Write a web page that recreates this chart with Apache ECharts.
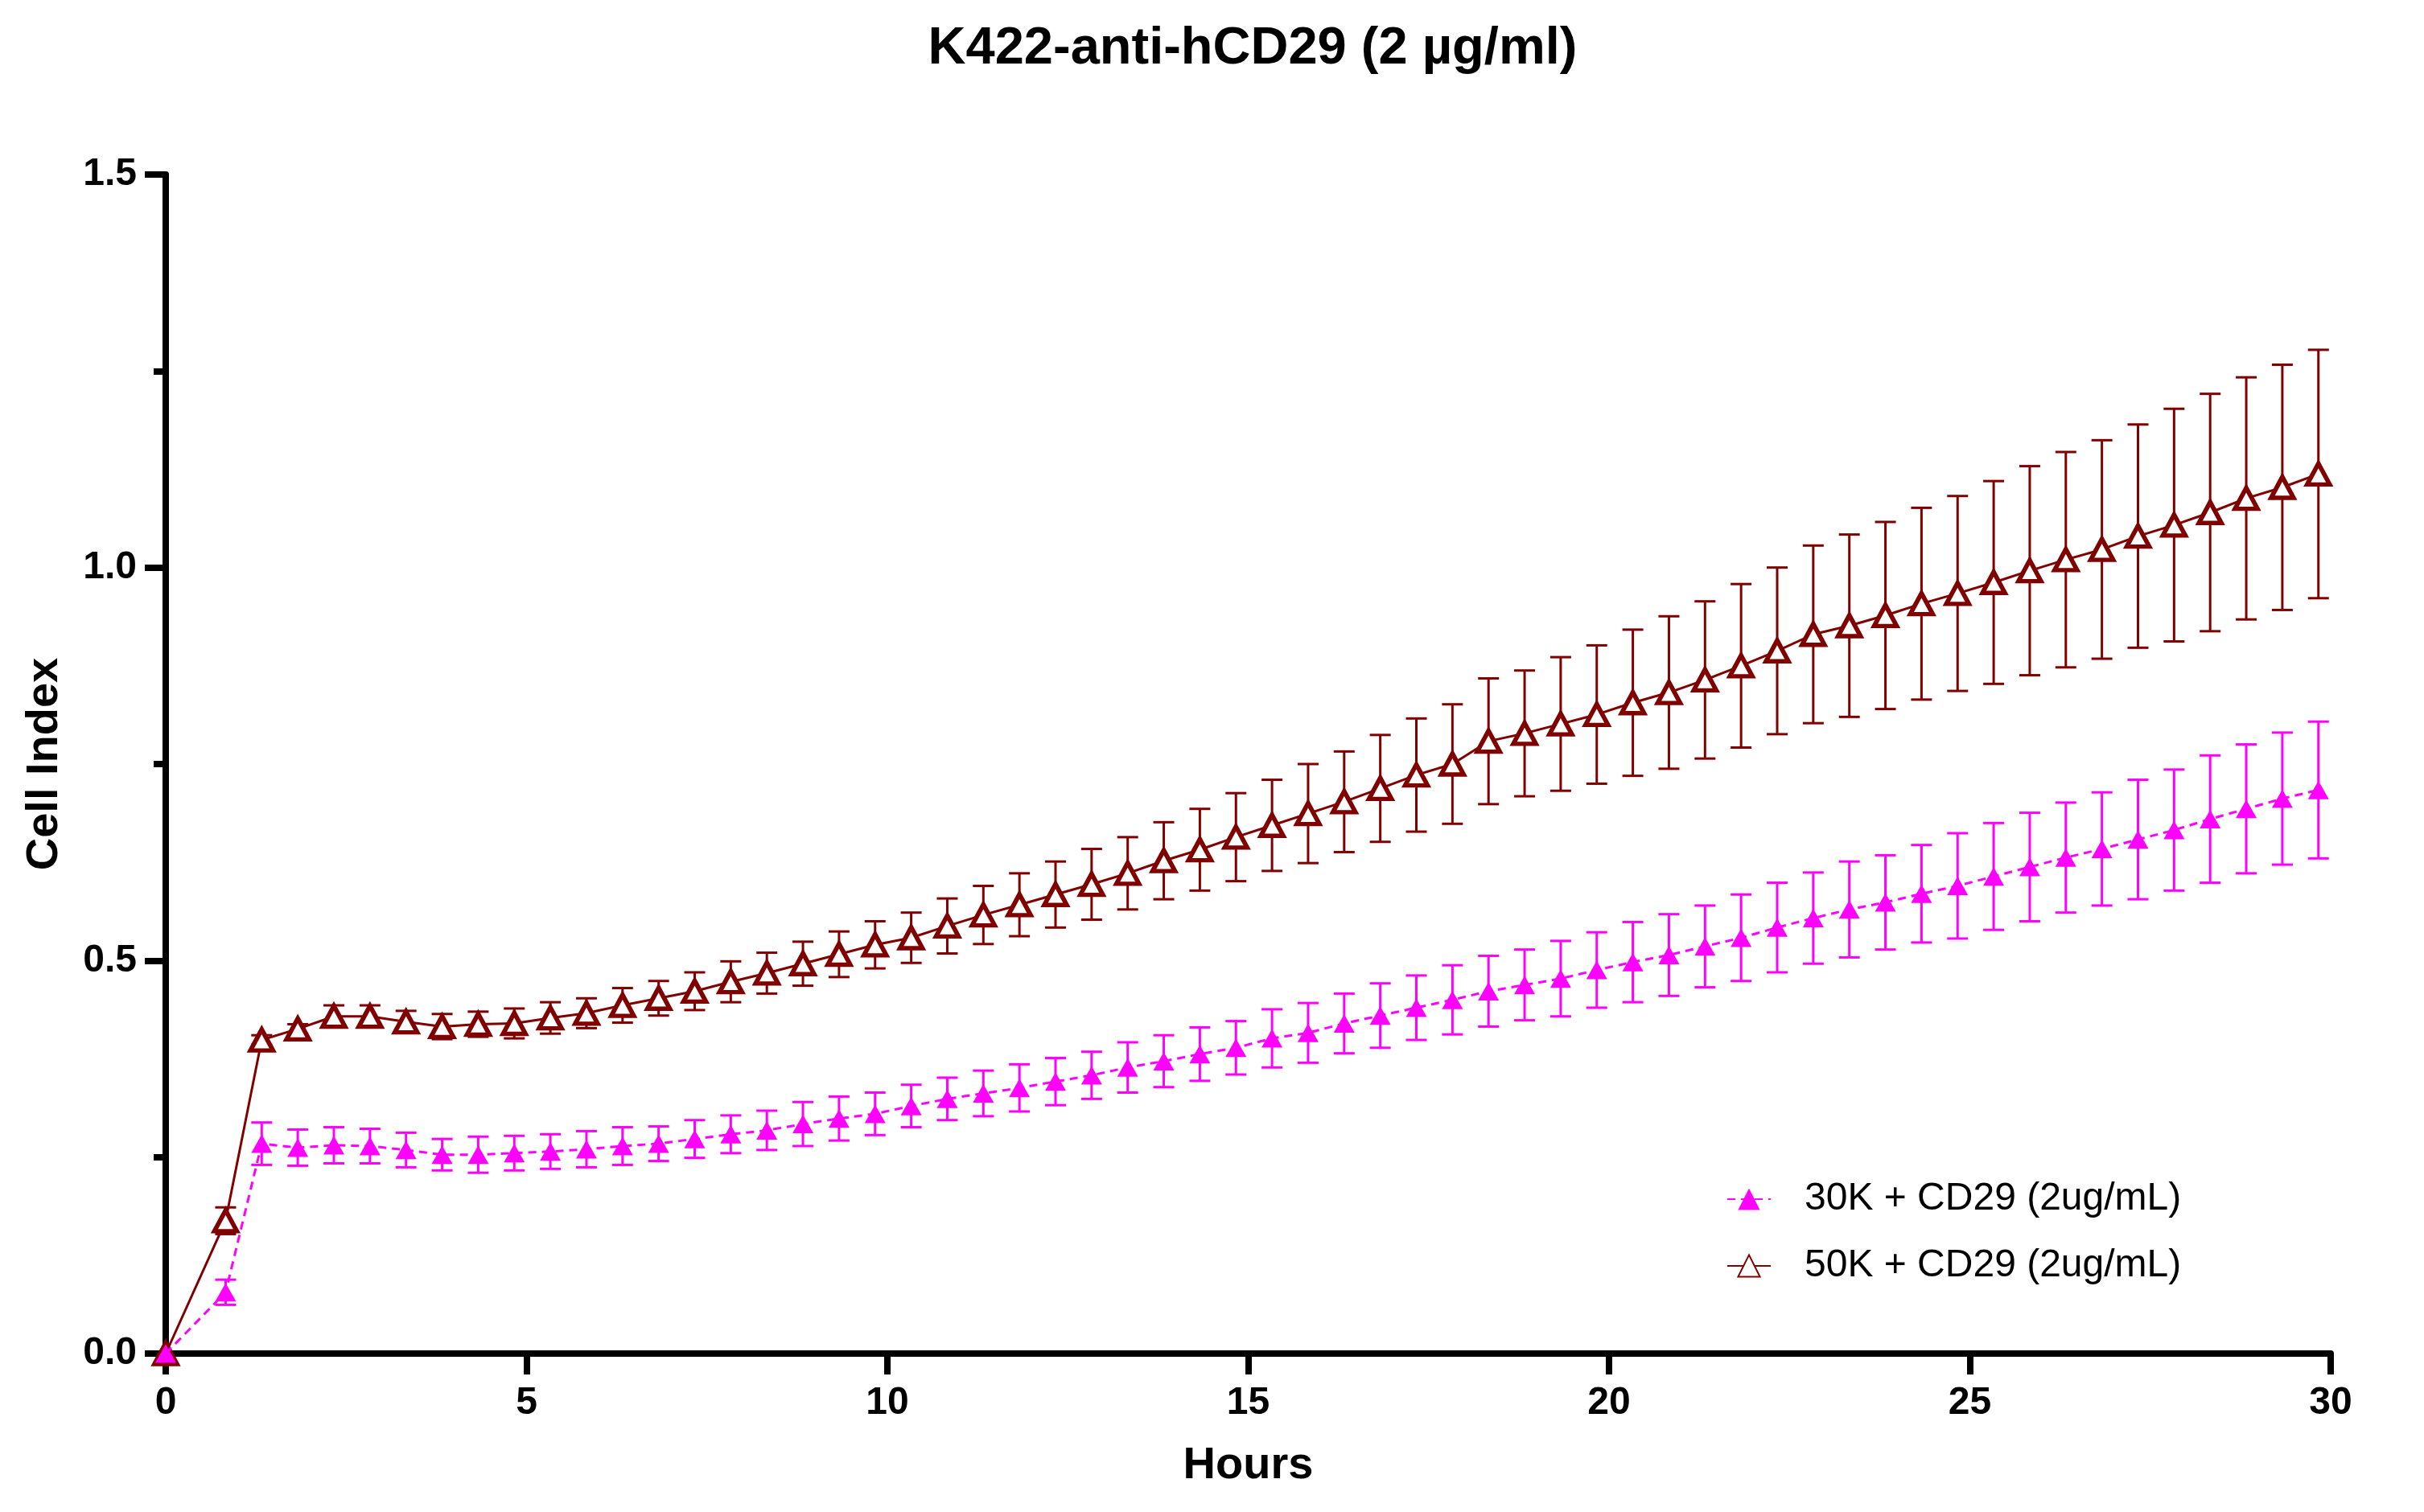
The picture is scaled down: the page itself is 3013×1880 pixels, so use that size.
<!DOCTYPE html>
<html>
<head>
<meta charset="utf-8">
<title>K422-anti-hCD29</title>
<script src="https://cdn.jsdelivr.net/npm/echarts@6/dist/echarts.min.js"></script>
<style>
  html, body { margin: 0; padding: 0; background: #fff; }
  #main { width: 3013px; height: 1880px; }
</style>
</head>
<body>
<div id="main"></div>
<script>
// time points (hours)
var hours = [0, 0.83, 1.33, 1.83, 2.33, 2.83, 3.33, 3.83, 4.33, 4.83,
  5.33, 5.83, 6.33, 6.83, 7.33, 7.83, 8.33, 8.83, 9.33, 9.83,
  10.33, 10.83, 11.33, 11.83, 12.33, 12.83, 13.33, 13.83, 14.33, 14.83,
  15.33, 15.83, 16.33, 16.83, 17.33, 17.83, 18.33, 18.83, 19.33, 19.83,
  20.33, 20.83, 21.33, 21.83, 22.33, 22.83, 23.33, 23.83, 24.33, 24.83,
  25.33, 25.83, 26.33, 26.83, 27.33, 27.83, 28.33, 28.83, 29.33, 29.83];

// 30K + CD29 mean and error
var mean30 = [0, 0.078, 0.267, 0.262, 0.265, 0.264, 0.259, 0.253, 0.253, 0.255,
  0.257, 0.260, 0.264, 0.267, 0.273, 0.279, 0.284, 0.292, 0.299, 0.305,
  0.315, 0.324, 0.331, 0.338, 0.346, 0.354, 0.364, 0.372, 0.381, 0.389,
  0.401, 0.408, 0.420, 0.430, 0.440, 0.450, 0.461, 0.469, 0.477, 0.488,
  0.498, 0.507, 0.518, 0.529, 0.542, 0.554, 0.565, 0.574, 0.585, 0.595,
  0.607, 0.619, 0.631, 0.642, 0.654, 0.666, 0.680, 0.693, 0.706, 0.717];
var err30 = [0, 0.016, 0.027, 0.023, 0.023, 0.022, 0.022, 0.020, 0.023, 0.022,
  0.022, 0.023, 0.024, 0.022, 0.024, 0.024, 0.025, 0.028, 0.028, 0.027,
  0.027, 0.027, 0.029, 0.030, 0.030, 0.030, 0.032, 0.033, 0.034, 0.034,
  0.037, 0.038, 0.038, 0.041, 0.041, 0.044, 0.045, 0.045, 0.048, 0.048,
  0.051, 0.052, 0.052, 0.055, 0.057, 0.058, 0.061, 0.060, 0.062, 0.067,
  0.068, 0.069, 0.070, 0.072, 0.076, 0.077, 0.081, 0.082, 0.084, 0.087];

// 50K + CD29 mean and error
var mean50 = [0, 0.169, 0.399, 0.413, 0.429, 0.429, 0.422, 0.416, 0.419, 0.420,
  0.427, 0.433, 0.443, 0.452, 0.461, 0.473, 0.484, 0.496, 0.508, 0.520,
  0.529, 0.544, 0.558, 0.571, 0.584, 0.597, 0.611, 0.627, 0.641, 0.657,
  0.672, 0.687, 0.702, 0.719, 0.736, 0.750, 0.779, 0.789, 0.801, 0.813,
  0.828, 0.841, 0.857, 0.875, 0.894, 0.915, 0.926, 0.939, 0.954, 0.967,
  0.981, 0.996, 1.010, 1.023, 1.040, 1.054, 1.070, 1.088, 1.102, 1.119];
var err50 = [0, 0.017, 0.006, 0.006, 0.014, 0.014, 0.014, 0.016, 0.016, 0.019,
  0.020, 0.019, 0.022, 0.022, 0.024, 0.026, 0.026, 0.028, 0.029, 0.030,
  0.032, 0.035, 0.037, 0.040, 0.042, 0.045, 0.046, 0.049, 0.052, 0.056,
  0.058, 0.063, 0.064, 0.068, 0.072, 0.076, 0.080, 0.080, 0.085, 0.088,
  0.093, 0.097, 0.100, 0.104, 0.106, 0.113, 0.116, 0.119, 0.122, 0.124,
  0.129, 0.133, 0.137, 0.139, 0.142, 0.148, 0.151, 0.154, 0.156, 0.158];

var names = ['30K + CD29 (2ug/mL)', '50K + CD29 (2ug/mL)'];
var colors = ['#ff00ff', '#800000'];
var yTicks = ['0.0', '0.5', '1.0', '1.5'];

var FONT = 'Liberation Sans, Arial, Helvetica, sans-serif';

function pairs(xs, ys) {
  return xs.map(function (x, i) { return [x, ys[i]]; });
}
function errRows(xs, ys, es) {
  return xs.map(function (x, i) { return [x, ys[i] - es[i], ys[i] + es[i], es[i]]; });
}

function errorBar(color) {
  return function (params, api) {
    if (api.value(3) <= 0) return null;
    var lo = api.coord([api.value(0), api.value(1)]);
    var hi = api.coord([api.value(0), api.value(2)]);
    var cap = 13;
    var style = { stroke: color, lineWidth: 3 };
    return {
      type: 'group',
      children: [
        { type: 'line', shape: { x1: hi[0], y1: hi[1], x2: lo[0], y2: lo[1] }, style: style },
        { type: 'line', shape: { x1: hi[0] - cap, y1: hi[1], x2: hi[0] + cap, y2: hi[1] }, style: style },
        { type: 'line', shape: { x1: lo[0] - cap, y1: lo[1], x2: lo[0] + cap, y2: lo[1] }, style: style }
      ]
    };
  };
}

var chart = echarts.init(document.getElementById('main'));

var option = {
  animation: false,
  backgroundColor: '#fff',
  title: {
    text: 'K422-anti-hCD29 (2 µg/ml)',
    left: 1552,
    top: 24,
    textAlign: 'center',
    textStyle: { fontFamily: FONT, fontSize: 65, fontWeight: 'bold', color: '#000' }
  },
  legend: {
    orient: 'vertical',
    left: 2141,
    top: 1462,
    itemWidth: 54,
    itemHeight: 34,
    itemGap: 35,
    data: names,
    textStyle: { fontFamily: FONT, fontSize: 48, color: '#000', padding: [0, 0, 0, 37] }
  },
  grid: { left: 206, right: 116, top: 217, bottom: 197 },
  xAxis: {
    type: 'value',
    min: 0,
    max: 30,
    interval: 5,
    name: 'Hours',
    nameLocation: 'middle',
    nameGap: 112,
    nameTextStyle: { fontFamily: FONT, fontSize: 56, fontWeight: 'bold', color: '#000' },
    axisLine: { lineStyle: { color: '#000', width: 8 } },
    axisTick: { length: 26, lineStyle: { color: '#000', width: 8 } },
    axisLabel: { fontFamily: FONT, fontSize: 48, fontWeight: 'bold', color: '#000', margin: 38 },
    splitLine: { show: false }
  },
  yAxis: {
    type: 'value',
    min: 0,
    max: 1.5,
    interval: 0.5,
    name: 'Cell Index',
    nameLocation: 'middle',
    nameGap: 122,
    nameTextStyle: { fontFamily: FONT, fontSize: 56, fontWeight: 'bold', color: '#000' },
    axisLine: { show: true, lineStyle: { color: '#000', width: 8 } },
    axisTick: { show: true, length: 26, lineStyle: { color: '#000', width: 8 } },
    minorTick: { show: true, splitNumber: 2, length: 15, lineStyle: { color: '#000', width: 8 } },
    axisLabel: {
      fontFamily: FONT, fontSize: 48, fontWeight: 'bold', color: '#000', margin: 36,
      formatter: function (v) { return yTicks[Math.round(v / 0.5)]; }
    },
    splitLine: { show: false }
  },
  series: [
    {
      type: 'custom',
      name: names[1] + ' err',
      renderItem: errorBar(colors[1]),
      data: errRows(hours, mean50, err50),
      encode: { x: 0, y: [1, 2] },
      z: 2,
      silent: true
    },
    {
      type: 'line',
      name: names[1],
      data: pairs(hours, mean50),
      symbol: 'triangle',
      symbolSize: [28, 26],
      lineStyle: { color: colors[1], width: 3 },
      itemStyle: { color: '#fff', borderColor: colors[1], borderWidth: 5.5 },
      z: 3
    },
    {
      type: 'custom',
      name: names[0] + ' err',
      renderItem: errorBar(colors[0]),
      data: errRows(hours, mean30, err30),
      encode: { x: 0, y: [1, 2] },
      z: 4,
      silent: true
    },
    {
      type: 'line',
      name: names[0],
      data: pairs(hours, mean30),
      symbol: 'triangle',
      symbolSize: [26, 23],
      lineStyle: { color: colors[0], width: 3, type: [10, 7] },
      itemStyle: { color: colors[0], borderWidth: 0 },
      z: 5
    }
  ]
};

chart.setOption(option);
</script>
</body>
</html>
